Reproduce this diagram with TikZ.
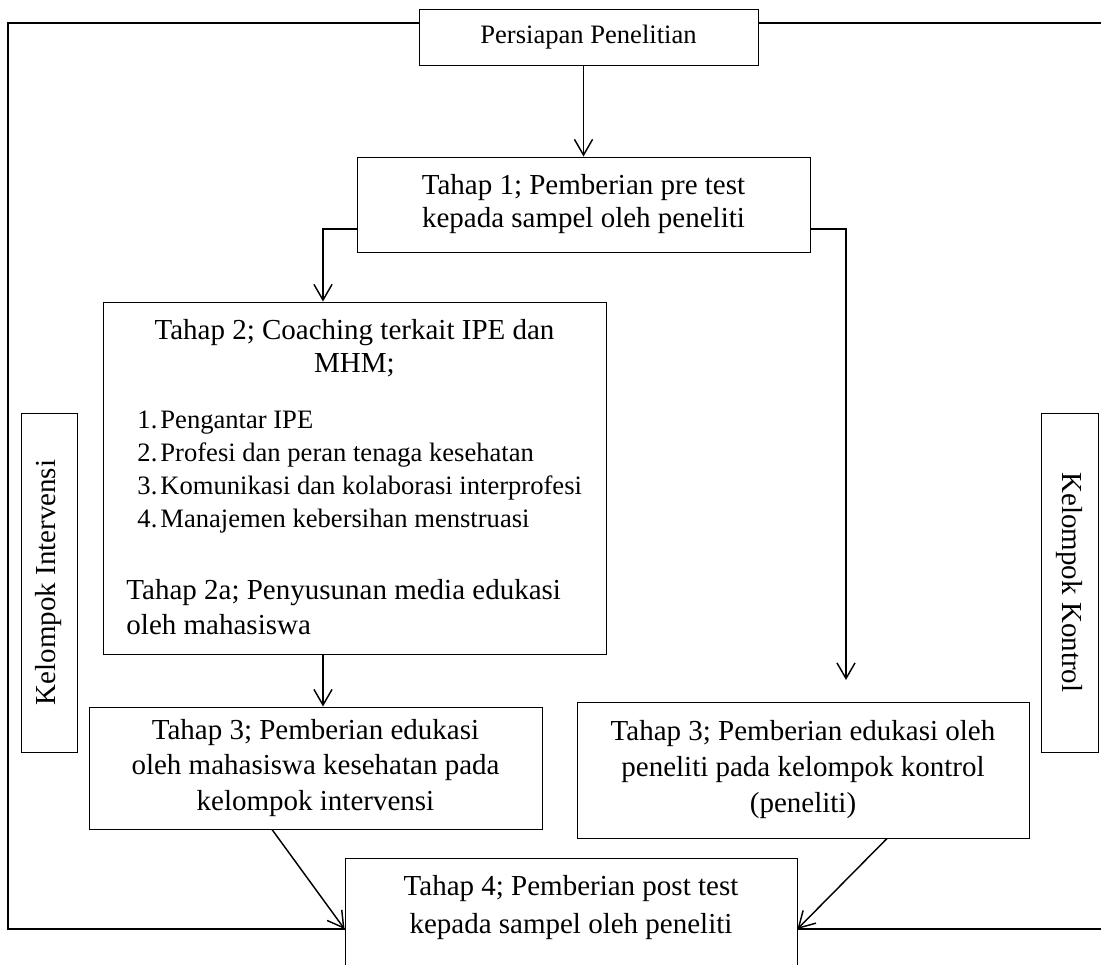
\documentclass[tikz,border=0pt]{standalone}
\usepackage{fontspec}
\setmainfont{Liberation Serif}
\usetikzlibrary{arrows.meta}
\newcommand{\pxu}{0.41379pt}
\newcommand{\nomor}[1]{\makebox[9.5pt][l]{#1}}

\begin{document}
\begin{tikzpicture}
[
    x=\pxu, y=-\pxu,
    every node/.style={font=\fontsize{12pt}{13.66pt}\selectfont},
    box/.style={draw, line width=0.4pt, inner sep=0pt, align=center},
    isi/.style={inner sep=0pt, align=left, anchor=west},
    frame/.style={line width=0.8pt},
    arr/.style={line width=0.6pt, -{Straight Barb[length=6.5pt, width=7.5pt]}},
]
\useasboundingbox (0,0) rectangle (1101,965);
\clip (0,0) rectangle (1101,965);
\node [box, minimum width=339*\pxu, minimum height=56*\pxu, font=\fontsize{11pt}{13pt}\selectfont] (persiapan) at (588.5,37) {Persiapan Penelitian};
\node [box, minimum width=453*\pxu, minimum height=95*\pxu] (tahap1) at (583.5,204.5) {Tahap 1; Pemberian pre test\\kepada sampel oleh peneliti};
\node [box, minimum width=503*\pxu, minimum height=352*\pxu] (tahap2) at (354.5,478) {};
\node [inner sep=0pt, align=center] (judul2) at (354.5,348.5) {Tahap 2; Coaching terkait IPE dan\\MHM;};
\node [isi, font=\fontsize{11pt}{13.66pt}\selectfont] (daftar2) at (137,472.5) {\nomor{1.}Pengantar IPE\\\nomor{2.}Profesi dan peran tenaga kesehatan\\\nomor{3.}Komunikasi dan kolaborasi interprofesi\\\nomor{4.}Manajemen kebersihan menstruasi};
\node [isi, font=\fontsize{12pt}{14.5pt}\selectfont] (tahap2a) at (126,607.5) {Tahap 2a; Penyusunan media edukasi\\oleh mahasiswa};
\node [box, minimum width=453*\pxu, minimum height=122*\pxu, font=\fontsize{12pt}{14.5pt}\selectfont] (tahap3a) at (315.5,768) {Tahap 3; Pemberian edukasi\\oleh mahasiswa kesehatan pada\\kelompok intervensi};
\node [box, minimum width=452*\pxu, minimum height=136*\pxu, font=\fontsize{12pt}{14.9pt}\selectfont] (tahap3b) at (803,770) {Tahap 3; Pemberian edukasi oleh\\peneliti pada kelompok kontrol\\(peneliti)};
\node [box, minimum width=452*\pxu, minimum height=160*\pxu] (tahap4) at (571,938) {};
\node [inner sep=0pt, align=center, font=\fontsize{12pt}{16pt}\selectfont] (teks4) at (571,907.5) {Tahap 4; Pemberian post test\\kepada sampel oleh peneliti};
\node [box, rotate=90, minimum width=339*\pxu, minimum height=56*\pxu] (intervensi) at (49,582.5) {Kelompok Intervensi};
\node [box, rotate=-90, minimum width=339*\pxu, minimum height=57*\pxu] (kontrol) at (1069.5,582.5) {Kelompok Kontrol};
\coordinate (kiriatas) at (8,23);
\coordinate (kiribawah) at (8,929);
\coordinate (kananatas) at (1101,23);
\coordinate (kananbawah) at (1101,929);
\coordinate (cabangkiri) at (323,229);
\coordinate (cabangkanan) at (846,229);
\coordinate (ujungkanan) at (846,680);
\coordinate (turunkiri) at (272,829);
\coordinate (turunkanan) at (887,838);
\draw [frame] (kiriatas -| persiapan.west) -- (kiriatas) -- (kiribawah) -- (kiribawah -| tahap4.west);
\draw [frame] (kananatas -| persiapan.east) -- (kananatas);
\draw [frame] (kananbawah -| tahap4.east) -- (kananbawah);
\draw [arr] (persiapan.south -| tahap1.north) -- (tahap1.north);
\draw [arr] (tahap1.west |- cabangkiri) -- (cabangkiri) -- (cabangkiri |- tahap2.north);
\draw [arr] (tahap1.east |- cabangkanan) -- (cabangkanan) -- (ujungkanan);
\draw [arr] (cabangkiri |- tahap2.south) -- (cabangkiri |- tahap3a.north);
\draw [arr] (turunkiri |- tahap3a.south) -- (kiribawah -| tahap4.west);
\draw [arr] (turunkanan |- tahap3b.south) -- (kananbawah -| tahap4.east);
\end{tikzpicture}
\end{document}
